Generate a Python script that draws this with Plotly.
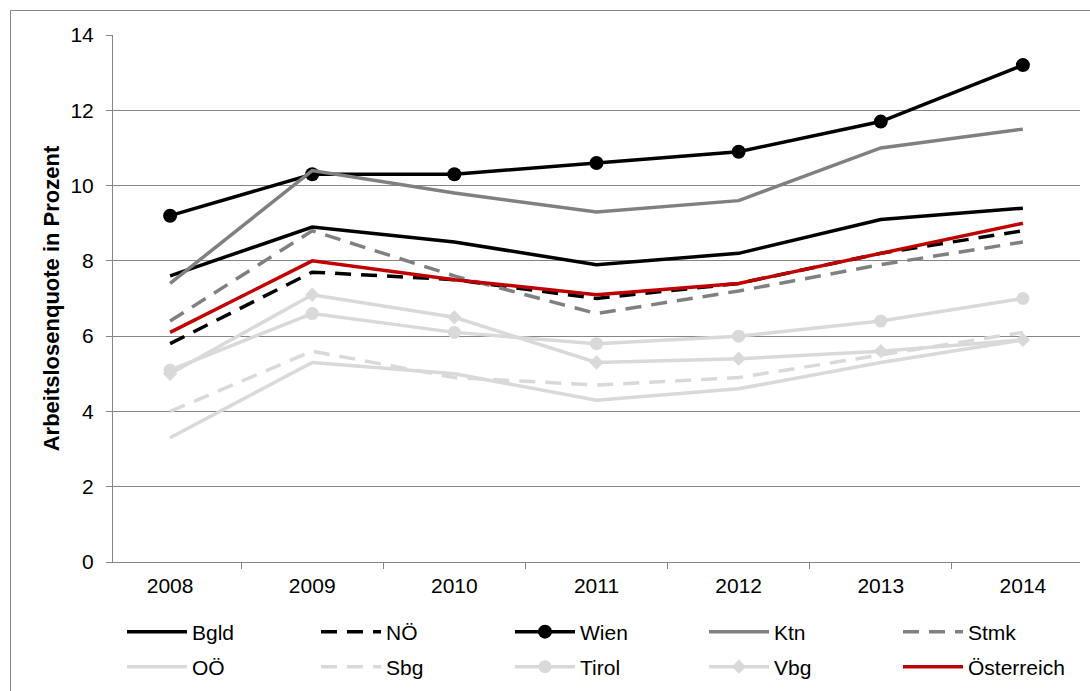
import plotly.graph_objects as go

# Arbeitslosenquote (%) nach Bundesland, 2008-2014
years = ["2008", "2009", "2010", "2011", "2012", "2013", "2014"]

bgld = [7.6, 8.9, 8.5, 7.9, 8.2, 9.1, 9.4]
noe = [5.8, 7.7, 7.5, 7.0, 7.4, 8.2, 8.8]
wien = [9.2, 10.3, 10.3, 10.6, 10.9, 11.7, 13.2]
ktn = [7.4, 10.4, 9.8, 9.3, 9.6, 11.0, 11.5]
stmk = [6.4, 8.8, 7.6, 6.6, 7.2, 7.9, 8.5]
ooe = [3.3, 5.3, 5.0, 4.3, 4.6, 5.3, 5.9]
sbg = [4.0, 5.6, 4.9, 4.7, 4.9, 5.5, 6.1]
tirol = [5.1, 6.6, 6.1, 5.8, 6.0, 6.4, 7.0]
vbg = [5.0, 7.1, 6.5, 5.3, 5.4, 5.6, 5.9]
oesterreich = [6.1, 8.0, 7.5, 7.1, 7.4, 8.2, 9.0]

y_ticks = [0, 2, 4, 6, 8, 10, 12, 14]

BLACK = "#000000"
GRAY = "#808080"
LIGHT = "#d9d9d9"
RED = "#c00000"
GRID = "#868686"
FONT = "Liberation Sans, Arial, sans-serif"
LW = 3.5
DASH = "16px,10px"

W, H = 1090, 691
M_L, M_R, M_T, M_B = 113, 10, 35, 129
PW = W - M_L - M_R
PH = H - M_T - M_B


def px_x(px):
    return (px - M_L) / PW


def px_y(py):
    return (H - M_B - py) / PH


series = [
    ("Bgld", bgld, BLACK, "solid", None, "legend"),
    ("NÖ", noe, BLACK, DASH, None, "legend"),
    ("Wien", wien, BLACK, "solid", "circle", "legend"),
    ("Ktn", ktn, GRAY, "solid", None, "legend"),
    ("Stmk", stmk, GRAY, DASH, None, "legend"),
    ("OÖ", ooe, LIGHT, "solid", None, "legend2"),
    ("Sbg", sbg, LIGHT, DASH, None, "legend2"),
    ("Tirol", tirol, LIGHT, "solid", "circle", "legend2"),
    ("Vbg", vbg, LIGHT, "solid", "diamond", "legend2"),
    ("Österreich", oesterreich, RED, "solid", None, "legend2"),
]

fig = go.Figure()
for name, vals, color, dash, symbol, leg in series:
    size = {"circle": 14, "diamond": 11}.get(symbol, 0)
    if name == "Tirol":
        size = 13
    fig.add_trace(
        go.Scatter(
            x=years,
            y=vals,
            name=name,
            mode="lines+markers" if symbol else "lines",
            line=dict(color=color, width=LW, dash=dash),
            marker=dict(symbol=symbol or "circle", size=size, color=color) if symbol else None,
            legend=leg,
        )
    )

legend_common = dict(
    orientation="h",
    x=px_x(122),
    xanchor="left",
    yanchor="middle",
    itemwidth=60,
    entrywidth=119,
    entrywidthmode="pixels",
    font=dict(family=FONT, size=21, color="#000000"),
    bgcolor="rgba(0,0,0,0)",
    traceorder="normal",
)

fig.update_layout(
    width=W,
    height=H,
    margin=dict(l=M_L, r=M_R, t=M_T, b=M_B, autoexpand=False),
    paper_bgcolor="white",
    plot_bgcolor="white",
    font=dict(family=FONT, size=21, color="#000000"),
    legend=dict(legend_common, y=px_y(632)),
    legend2=dict(legend_common, y=px_y(667)),
    xaxis=dict(
        type="category",
        tickson="boundaries",
        ticks="outside",
        ticklen=6,
        tickcolor=GRID,
        showline=True,
        linecolor=GRID,
        linewidth=1,
        showgrid=False,
        zeroline=False,
        tickfont=dict(family=FONT, size=21, color="#000000"),
        ticklabelstandoff=5,
        automargin=False,
    ),
    yaxis=dict(
        range=[0, 14],
        tickvals=y_ticks,
        ticks="outside",
        ticklen=6,
        tickcolor=GRID,
        showline=True,
        linecolor=GRID,
        linewidth=1,
        showgrid=True,
        gridcolor=GRID,
        gridwidth=1,
        zeroline=False,
        tickfont=dict(family=FONT, size=21, color="#000000"),
        ticklabelstandoff=8,
        title=dict(
            text="<b>Arbeitslosenquote in Prozent</b>",
            font=dict(family=FONT, size=22, color="#000000"),
            standoff=4,
        ),
        automargin=False,
    ),
    shapes=[
        dict(
            type="rect",
            xref="paper",
            yref="paper",
            x0=px_x(10.5),
            x1=px_x(1100),
            y0=px_y(700),
            y1=px_y(10.5),
            line=dict(color=GRID, width=1),
            fillcolor="rgba(0,0,0,0)",
            layer="below",
        )
    ],
)

fig.write_html("out.html")
